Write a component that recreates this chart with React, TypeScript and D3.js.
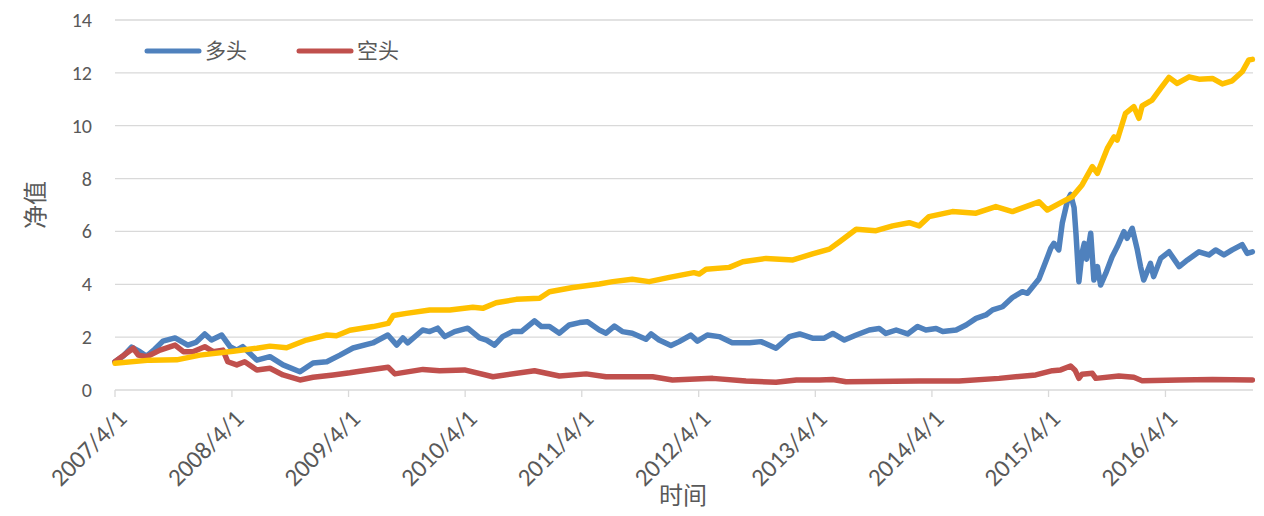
import React from 'react';
import * as d3 from 'd3';

// 多头 (long) net value
const longSeries: [string, number][] = [
  ['2007-04-01', 1.07], ['2007-04-28', 1.3], ['2007-05-23', 1.62], ['2007-06-18', 1.45], ['2007-07-09', 1.28],
  ['2007-08-04', 1.55], ['2007-08-29', 1.85], ['2007-10-06', 1.97], ['2007-11-15', 1.7], ['2007-12-10', 1.8],
  ['2008-01-07', 2.12], ['2008-01-28', 1.89], ['2008-02-29', 2.08], ['2008-03-26', 1.64], ['2008-04-16', 1.51],
  ['2008-05-05', 1.64], ['2008-06-18', 1.13], ['2008-07-29', 1.26], ['2008-09-08', 0.95], ['2008-10-31', 0.69],
  ['2008-12-11', 1.02], ['2009-01-23', 1.07], ['2009-03-05', 1.32], ['2009-04-15', 1.59], ['2009-06-16', 1.78],
  ['2009-08-02', 2.08], ['2009-08-30', 1.7], ['2009-09-18', 1.97], ['2009-10-03', 1.78], ['2009-11-19', 2.27],
  ['2009-12-11', 2.21], ['2010-01-05', 2.34], ['2010-01-27', 2.02], ['2010-02-27', 2.21], ['2010-04-09', 2.34],
  ['2010-05-16', 1.97], ['2010-06-07', 1.89], ['2010-07-02', 1.7], ['2010-07-27', 2.02], ['2010-08-27', 2.21],
  ['2010-09-24', 2.21], ['2010-11-04', 2.62], ['2010-11-26', 2.4], ['2010-12-21', 2.4], ['2011-01-21', 2.15],
  ['2011-02-21', 2.46], ['2011-03-25', 2.55], ['2011-04-19', 2.58], ['2011-05-26', 2.27], ['2011-06-16', 2.15],
  ['2011-07-12', 2.42], ['2011-08-06', 2.21], ['2011-09-06', 2.15], ['2011-10-19', 1.92], ['2011-11-04', 2.12],
  ['2011-11-29', 1.89], ['2012-01-05', 1.68], ['2012-01-31', 1.83], ['2012-03-07', 2.08], ['2012-03-28', 1.85],
  ['2012-04-28', 2.08], ['2012-06-04', 2.02], ['2012-07-15', 1.79], ['2012-09-07', 1.79], ['2012-10-13', 1.83],
  ['2012-11-29', 1.58], ['2013-01-10', 2.02], ['2013-02-11', 2.12], ['2013-03-23', 1.96], ['2013-04-29', 1.96],
  ['2013-05-26', 2.14], ['2013-07-01', 1.89], ['2013-08-07', 2.08], ['2013-09-17', 2.27], ['2013-10-18', 2.33],
  ['2013-11-08', 2.14], ['2013-12-10', 2.27], ['2014-01-15', 2.12], ['2014-02-15', 2.4], ['2014-03-13', 2.27],
  ['2014-04-14', 2.33], ['2014-05-05', 2.21], ['2014-06-16', 2.27], ['2014-07-17', 2.46], ['2014-08-17', 2.71],
  ['2014-09-17', 2.84], ['2014-10-08', 3.03], ['2014-11-08', 3.15], ['2014-12-09', 3.5], ['2015-01-09', 3.72],
  ['2015-01-25', 3.66], ['2015-03-02', 4.2], ['2015-03-23', 4.85], ['2015-04-08', 5.36], ['2015-04-18', 5.55],
  ['2015-05-03', 5.3], ['2015-05-14', 6.31], ['2015-05-30', 7.15], ['2015-06-09', 7.4], ['2015-06-20', 6.9],
  ['2015-06-26', 5.9], ['2015-07-05', 4.1], ['2015-07-15', 5.2], ['2015-07-22', 5.55], ['2015-07-29', 4.95],
  ['2015-08-11', 5.93], ['2015-08-21', 4.16], ['2015-09-01', 4.67], ['2015-09-11', 3.97], ['2015-09-27', 4.41],
  ['2015-10-17', 5.04], ['2015-11-02', 5.42], ['2015-11-23', 5.99], ['2015-12-03', 5.74], ['2015-12-19', 6.12],
  ['2016-01-04', 5.3], ['2016-01-14', 4.67], ['2016-01-24', 4.16], ['2016-02-14', 4.79], ['2016-02-24', 4.29],
  ['2016-03-17', 4.98], ['2016-04-12', 5.23], ['2016-05-14', 4.67], ['2016-06-09', 4.92], ['2016-07-15', 5.23],
  ['2016-08-15', 5.11], ['2016-09-05', 5.3], ['2016-10-01', 5.11], ['2016-10-27', 5.3], ['2016-11-27', 5.5],
  ['2016-12-13', 5.17], ['2016-12-29', 5.23],
];

// 空头 (short) net value
const shortSeries: [string, number][] = [
  ['2007-04-01', 1.07], ['2007-05-28', 1.58], ['2007-06-13', 1.32], ['2007-07-09', 1.26], ['2007-08-20', 1.51],
  ['2007-10-06', 1.7], ['2007-11-01', 1.45], ['2007-12-01', 1.45], ['2008-01-07', 1.64], ['2008-02-02', 1.45],
  ['2008-03-04', 1.51], ['2008-03-19', 1.07], ['2008-04-16', 0.95], ['2008-05-11', 1.07], ['2008-06-18', 0.76],
  ['2008-07-29', 0.82], ['2008-09-08', 0.57], ['2008-10-31', 0.38], ['2008-12-11', 0.48], ['2009-02-12', 0.57],
  ['2009-04-05', 0.65], ['2009-05-06', 0.71], ['2009-08-03', 0.86], ['2009-08-24', 0.61], ['2009-11-20', 0.78],
  ['2010-01-11', 0.73], ['2010-03-30', 0.76], ['2010-06-27', 0.5], ['2010-11-04', 0.73], ['2011-01-21', 0.53],
  ['2011-04-15', 0.61], ['2011-06-16', 0.5], ['2011-11-09', 0.5], ['2012-01-10', 0.38], ['2012-05-15', 0.44],
  ['2012-08-27', 0.34], ['2012-11-29', 0.29], ['2013-02-01', 0.38], ['2013-04-14', 0.38], ['2013-05-26', 0.4],
  ['2013-07-06', 0.31], ['2014-02-20', 0.34], ['2014-06-25', 0.34], ['2014-10-28', 0.44], ['2015-02-20', 0.57],
  ['2015-04-13', 0.73], ['2015-05-09', 0.76], ['2015-06-09', 0.91], ['2015-06-23', 0.75], ['2015-07-05', 0.44],
  ['2015-07-15', 0.6], ['2015-08-16', 0.63], ['2015-08-27', 0.44], ['2015-11-07', 0.53], ['2015-12-24', 0.48],
  ['2016-01-19', 0.35], ['2016-05-14', 0.38], ['2016-08-26', 0.4], ['2016-12-29', 0.38],
];

// third (unlabelled) series
const benchSeries: [string, number][] = [
  ['2007-04-01', 1.01], ['2007-07-19', 1.13], ['2007-10-11', 1.14], ['2007-12-23', 1.32], ['2008-04-05', 1.47],
  ['2008-06-18', 1.58], ['2008-07-29', 1.66], ['2008-09-19', 1.6], ['2008-11-20', 1.89], ['2009-01-23', 2.08],
  ['2009-02-22', 2.05], ['2009-04-05', 2.26], ['2009-06-17', 2.4], ['2009-08-03', 2.52], ['2009-08-19', 2.82],
  ['2009-09-29', 2.9], ['2009-12-11', 3.03], ['2010-02-12', 3.03], ['2010-04-25', 3.13], ['2010-05-26', 3.09],
  ['2010-07-07', 3.3], ['2010-09-08', 3.43], ['2010-11-20', 3.47], ['2010-12-21', 3.72], ['2011-03-04', 3.88],
  ['2011-05-26', 4.01], ['2011-07-07', 4.1], ['2011-09-06', 4.19], ['2011-10-29', 4.1], ['2011-12-31', 4.26],
  ['2012-03-17', 4.44], ['2012-04-03', 4.39], ['2012-04-24', 4.57], ['2012-07-06', 4.64], ['2012-08-17', 4.85],
  ['2012-10-29', 4.98], ['2013-01-21', 4.92], ['2013-03-23', 5.15], ['2013-05-15', 5.33], ['2013-06-16', 5.61],
  ['2013-08-07', 6.08], ['2013-10-08', 6.03], ['2013-11-29', 6.21], ['2014-01-20', 6.33], ['2014-02-20', 6.21],
  ['2014-03-23', 6.56], ['2014-06-04', 6.75], ['2014-08-17', 6.69], ['2014-10-18', 6.94], ['2014-12-09', 6.75],
  ['2015-03-02', 7.12], ['2015-03-28', 6.81], ['2015-05-14', 7.12], ['2015-06-14', 7.31], ['2015-07-15', 7.76],
  ['2015-08-16', 8.45], ['2015-09-01', 8.2], ['2015-10-02', 9.14], ['2015-10-23', 9.58], ['2015-11-02', 9.46],
  ['2015-11-28', 10.47], ['2015-12-24', 10.72], ['2016-01-09', 10.28], ['2016-01-19', 10.75], ['2016-02-19', 10.97],
  ['2016-03-17', 11.41], ['2016-04-12', 11.83], ['2016-05-08', 11.6], ['2016-06-14', 11.85], ['2016-07-15', 11.76],
  ['2016-08-26', 11.79], ['2016-09-26', 11.58], ['2016-10-27', 11.7], ['2016-11-27', 12.04], ['2016-12-18', 12.49],
  ['2016-12-29', 12.51],
];

const yTicks = [0, 2, 4, 6, 8, 10, 12, 14];
const xTickLabels = ['2007/4/1', '2008/4/1', '2009/4/1', '2010/4/1', '2011/4/1', '2012/4/1', '2013/4/1', '2014/4/1', '2015/4/1', '2016/4/1'];
const legendNames = ['多头', '空头'];
const xDomain = ['2007-04-01', '2016-12-31'];
const yTitle = '净值';
const xTitle = '时间';

const COLORS = { long: '#4F81BD', short: '#C0504D', bench: '#FFC000' };
const FONT = 'Carlito, Calibri, Lato, "Noto Sans", sans-serif';
const CJK = '"Noto Sans CJK SC", sans-serif';

export default function App() {
  const W = 1264, H = 516;
  const left = 115, right = 1253, top = 20, bottom = 390;
  const parse = d3.timeParse('%Y-%m-%d');
  const parseTick = d3.timeParse('%Y/%m/%d');
  const x = d3.scaleTime().domain(xDomain.map((d) => parse(d) as Date)).range([left, right]);
  const y = d3.scaleLinear().domain([0, 14]).range([bottom, top]);
  const line = d3.line<[string, number]>()
    .x((d) => x(parse(d[0]) as Date))
    .y((d) => y(d[1]));

  const series = [
    { data: longSeries, color: COLORS.long },
    { data: shortSeries, color: COLORS.short },
    { data: benchSeries, color: COLORS.bench },
  ];

  return (
    <svg width={W} height={H} style={{ position: 'absolute', left: 0, top: 0, background: '#fff' }}>
      <rect width={W} height={H} fill="#fff" />
      {yTicks.map((t) => (
        <g key={t}>
          <line x1={left} x2={right} y1={y(t)} y2={y(t)} stroke="#d9d9d9" strokeWidth={1.3} />
          <text x={92} y={y(t)} dy="0.35em" textAnchor="end" fontFamily={FONT} fontSize={20} fill="#595959">{t}</text>
        </g>
      ))}
      {xTickLabels.map((lab) => {
        const px = x(parseTick(lab) as Date);
        return (
          <g key={lab}>
            <line x1={px} x2={px} y1={bottom} y2={bottom + 7} stroke="#d9d9d9" strokeWidth={1.3} />
            <text transform={`translate(${px + 7},${bottom + 24}) rotate(-45)`} textAnchor="end" dy="0.35em"
              fontFamily={FONT} fontSize={25} fill="#595959">{lab}</text>
          </g>
        );
      })}
      {series.map((s, i) => (
        <path key={i} d={line(s.data) || ''} fill="none" stroke={s.color} strokeWidth={5.5}
          strokeLinejoin="round" strokeLinecap="round" />
      ))}
      {legendNames.map((n, i) => {
        const lx = 147 + i * 152;
        const col = i === 0 ? COLORS.long : COLORS.short;
        return (
          <g key={n}>
            <line x1={lx} x2={lx + 52} y1={51} y2={51} stroke={col} strokeWidth={5} strokeLinecap="round" />
            <text x={lx + 58} y={51} dy="0.35em" fontFamily={CJK} fontSize={21} fill="#595959">{n}</text>
          </g>
        );
      })}
      <text transform={`translate(36,${(top + bottom) / 2}) rotate(-90)`} textAnchor="middle" dy="0.35em"
        fontFamily={CJK} fontSize={24} fill="#595959">{yTitle}</text>
      <text x={683} y={496} textAnchor="middle" dy="0.35em" fontFamily={CJK} fontSize={24} fill="#595959">{xTitle}</text>
    </svg>
  );
}
